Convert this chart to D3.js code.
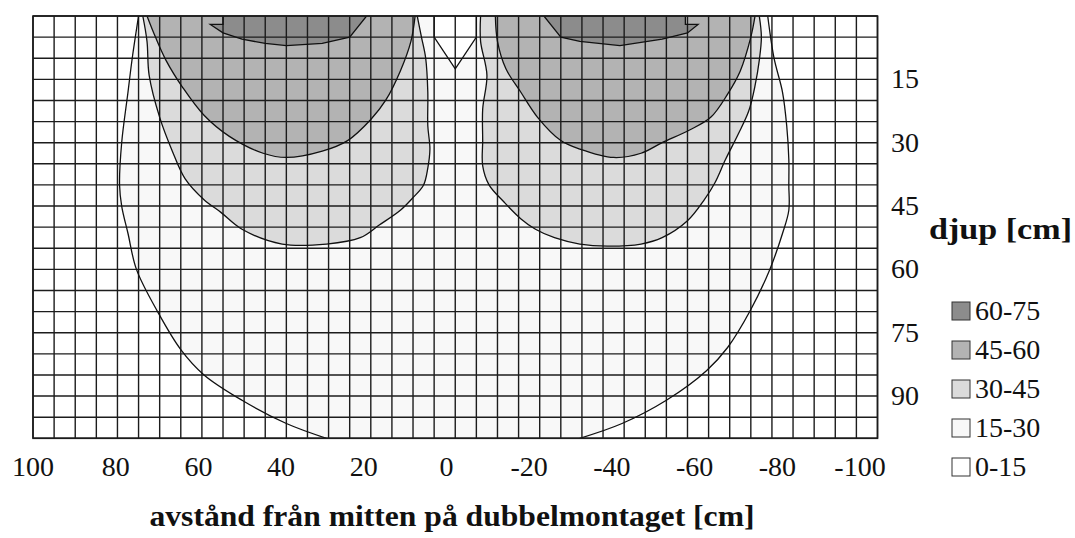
<!DOCTYPE html>
<html>
<head>
<meta charset="utf-8">
<script src="https://cdn.jsdelivr.net/npm/d3@7"></script>
<style>
  body { margin: 0; background: #fff; }
</style>
</head>
<body>
<div id="chart"></div>
<script>
const WIDTH = 1075;
const HEIGHT = 538;
const PLOT = { left: 33, right: 877.5, top: 16, bottom: 438.3 };
const SERIF = "Liberation Serif";

// axlar
const xLabels = ["100", "80", "60", "40", "20", "0", "-20", "-40", "-60", "-80", "-100"];
const depthLabels = [15, 30, 45, 60, 75, 90];
const bands = ["60-75", "45-60", "30-45", "15-30", "0-15"];

// konturer, [avstånd cm, djup cm]
const edge15Left = [[75, 0], [76.5, 10], [77.5, 18], [79, 30], [79.5, 40], [79, 45], [77.5, 51.5], [75.5, 60], [70.5, 70], [65, 79], [59.5, 85], [50.5, 91], [40, 96.5], [30.5, 100]];
const edge15Right = [[-74, 0], [-75.5, 10], [-77.5, 18], [-78.5, 26], [-79, 34], [-79, 40], [-79, 46], [-77.5, 51.5], [-74.5, 60], [-70, 69.5], [-64.5, 78.5], [-59.5, 84], [-50, 91], [-39.5, 96.5], [-29.5, 100]];
const notch15 = [[5, 0], [5, 5], [0, 12.5], [-5, 5], [-5, 0]];

const edge30Left = [[74, 0], [73, 6], [72.5, 14], [70, 24], [67, 32], [64, 38.5], [59.5, 43.5], [55.5, 46.5], [50.5, 50.5], [41, 54], [30.5, 54], [22.5, 52.5], [18, 49.5], [13, 46], [10, 43], [7.5, 40], [6.5, 36], [6, 31.5], [6.5, 26], [6.5, 18], [7, 10], [8, 5], [9, 0]];
const edge30Right = [[-6, 0], [-6, 6], [-7.5, 14], [-6.5, 22], [-6.5, 29.5], [-6.5, 35.5], [-8, 40], [-11.5, 44], [-15.5, 48], [-19, 50.5], [-23.5, 52.5], [-29.5, 54], [-36, 54.5], [-44, 54], [-49, 52.5], [-55, 48.5], [-59, 43.5], [-61.5, 39.5], [-64, 34], [-67, 28], [-69.5, 22.5], [-71, 16.5], [-72, 10.5], [-72.5, 5], [-72, 0]];

const edge45Left = [[73, 0], [71, 5], [68.5, 10.5], [64.5, 17], [59.5, 23.5], [53.5, 28.5], [45.5, 32.5], [40, 33.5], [31.5, 32], [25.5, 29.5], [20, 24.5], [16.5, 20], [13, 13], [10.5, 6], [9.5, 0]];
const edge45Right = [[-9.5, 0], [-10, 6], [-12, 12.5], [-15.5, 18], [-19.5, 24], [-25, 29.5], [-29.5, 31.5], [-37.5, 33.5], [-44, 32.5], [-49, 30], [-55.5, 27], [-60.5, 24], [-64.5, 18.5], [-67.5, 13], [-70, 5], [-71, 0]];

const edge60Left = [[55, 0], [55, 2], [58, 2], [55, 4], [50.5, 5.5], [45, 6.5], [40, 7], [31.5, 6.5], [25, 5], [21, 0]];
const edge60Right = [[-21, 0], [-25, 5], [-29.5, 6], [-39, 7], [-49, 5.5], [-55, 4], [-57.5, 2], [-54.5, 2], [-54.5, 0]];

const bandColor = d3.scaleOrdinal()
    .domain(bands)
    .range(["#8c8c8c", "#b3b3b3", "#dbdbdb", "#f8f8f8", "#ffffff"]);

const svg = d3.select("#chart").append("svg")
    .attr("width", WIDTH)
    .attr("height", HEIGHT)
    .style("background", "#fff");

const x = d3.scaleLinear().domain([100, -100]).range([PLOT.left, PLOT.right]);
const y = d3.scaleLinear().domain([0, 100]).range([PLOT.top, PLOT.bottom]);
// etiketterna står jämnt utspridda, inte exakt på rutnätet
const xLab = d3.scalePoint().domain(xLabels).range([33, 860]);

const smooth = d3.line().x(d => x(d[0])).y(d => y(d[1])).curve(d3.curveCatmullRom.alpha(0.5));
const straight = d3.line().x(d => x(d[0])).y(d => y(d[1]));

svg.append("clipPath").attr("id", "plotClip")
    .append("rect")
    .attr("x", PLOT.left).attr("y", PLOT.top)
    .attr("width", PLOT.right - PLOT.left).attr("height", PLOT.bottom - PLOT.top);

const plot = svg.append("g").attr("clip-path", "url(#plotClip)");

// ytor
plot.append("path")
    .attr("d", smooth(edge15Left.concat(edge15Right.slice().reverse())) + "Z")
    .attr("fill", bandColor("15-30"));
plot.append("path")
    .attr("d", straight(notch15) + "Z")
    .attr("fill", bandColor("0-15"));

[edge30Left, edge30Right].forEach(e => {
    plot.append("path").attr("d", smooth(e) + "Z").attr("fill", bandColor("30-45"));
});
[edge45Left, edge45Right].forEach(e => {
    plot.append("path").attr("d", smooth(e) + "Z").attr("fill", bandColor("45-60"));
});
[edge60Left, edge60Right].forEach(e => {
    plot.append("path").attr("d", straight(e) + "Z").attr("fill", bandColor("60-75"));
});

// rutnät
const grid = svg.append("g").attr("stroke", "#1c1c1c").attr("stroke-width", 1.4);
grid.selectAll(".vx")
    .data(d3.range(-100, 101, 5))
    .enter().append("line")
    .attr("x1", d => x(d)).attr("x2", d => x(d))
    .attr("y1", PLOT.top).attr("y2", PLOT.bottom);
grid.selectAll(".hy")
    .data(d3.range(0, 101, 5))
    .enter().append("line")
    .attr("x1", PLOT.left).attr("x2", PLOT.right)
    .attr("y1", d => y(d)).attr("y2", d => y(d));

// konturlinjer
const lines = svg.append("g")
    .attr("clip-path", "url(#plotClip)")
    .attr("fill", "none")
    .attr("stroke", "#111")
    .attr("stroke-width", 1.3);
[edge15Left, edge15Right, edge30Left, edge30Right, edge45Left, edge45Right].forEach(e => {
    lines.append("path").attr("d", smooth(e));
});
[notch15, edge60Left, edge60Right].forEach(e => {
    lines.append("path").attr("d", straight(e));
});

svg.append("rect")
    .attr("x", PLOT.left).attr("y", PLOT.top)
    .attr("width", PLOT.right - PLOT.left).attr("height", PLOT.bottom - PLOT.top)
    .attr("fill", "none").attr("stroke", "#1c1c1c").attr("stroke-width", 1.6);

// x-etiketter
svg.append("g").selectAll("text")
    .data(xLabels)
    .enter().append("text")
    .attr("x", d => xLab(d))
    .attr("y", 476)
    .attr("text-anchor", "middle")
    .attr("fill", "#111")
    .attr("font-family", SERIF)
    .style("font-family", SERIF)
    .style("font-size", "28px")
    .text(d => d);

svg.append("text")
    .attr("x", 452)
    .attr("y", 526)
    .attr("text-anchor", "middle")
    .attr("fill", "#111")
    .attr("textLength", 605)
    .attr("lengthAdjust", "spacingAndGlyphs")
    .attr("font-family", SERIF)
    .style("font-family", SERIF)
    .style("font-size", "29px")
    .style("font-weight", "bold")
    .text("avstånd från mitten på dubbelmontaget [cm]");

// djup-etiketter
svg.append("g").selectAll("text")
    .data(depthLabels)
    .enter().append("text")
    .attr("x", 891)
    .attr("y", d => y(d) + 9)
    .attr("fill", "#111")
    .attr("font-family", SERIF)
    .style("font-family", SERIF)
    .style("font-size", "28px")
    .text(d => d);

// förklaring
svg.append("text")
    .attr("x", 929)
    .attr("y", 239)
    .attr("fill", "#111")
    .attr("textLength", 143)
    .attr("lengthAdjust", "spacingAndGlyphs")
    .attr("font-family", SERIF)
    .style("font-family", SERIF)
    .style("font-size", "29px")
    .style("font-weight", "bold")
    .text("djup [cm]");

const legend = svg.append("g").selectAll("g")
    .data(bands)
    .enter().append("g")
    .attr("transform", (d, i) => `translate(952, ${311 + i * 39})`);
legend.append("rect")
    .attr("x", 0).attr("y", -9)
    .attr("width", 18).attr("height", 18)
    .attr("fill", d => bandColor(d))
    .attr("stroke", "#333").attr("stroke-width", 1);
legend.append("text")
    .attr("x", 23).attr("y", 9)
    .attr("fill", "#111")
    .attr("font-family", SERIF)
    .style("font-family", SERIF)
    .style("font-size", "28px")
    .text(d => d);
</script>
</body>
</html>
